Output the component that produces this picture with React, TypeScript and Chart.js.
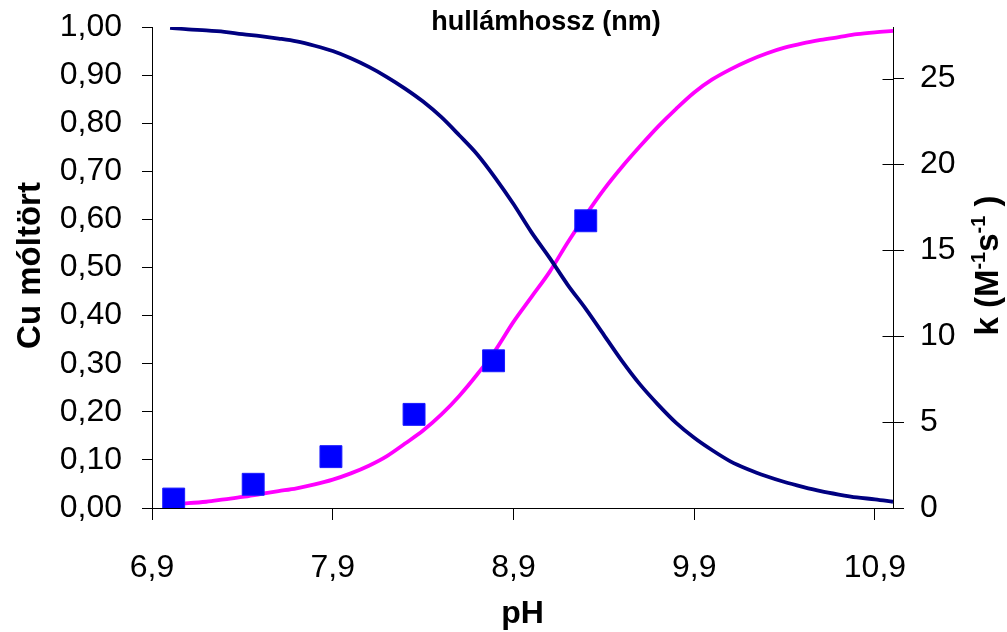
import React, { useEffect, useRef } from "react";
import { Chart, registerables } from "chart.js";

Chart.register(...registerables);

// ---- data ----
const pHGrid = [
  7.0, 7.1, 7.2, 7.3, 7.4, 7.5, 7.6, 7.7, 7.8, 7.9,
  8.0, 8.1, 8.2, 8.3, 8.4, 8.5, 8.6, 8.7, 8.8, 8.9,
  9.0, 9.1, 9.2, 9.3, 9.4, 9.5, 9.6, 9.7, 9.8, 9.9,
  10.0, 10.1, 10.2, 10.3, 10.4, 10.5, 10.6, 10.7, 10.8, 10.9, 11.0,
];
// Cu mole fraction (navy curve, left axis)
const cuFraction = [
  0.998, 0.995, 0.993, 0.99, 0.985, 0.981, 0.976, 0.97, 0.961, 0.95,
  0.935, 0.917, 0.896, 0.872, 0.845, 0.813, 0.775, 0.735, 0.686, 0.632,
  0.573, 0.52, 0.464, 0.414, 0.36, 0.306, 0.257, 0.215, 0.177, 0.146,
  0.12, 0.097, 0.08, 0.066, 0.054, 0.044, 0.035, 0.028, 0.022, 0.018, 0.013,
];
// complementary fraction (magenta curve, left axis)
const otherFraction = [
  0.008, 0.01, 0.013, 0.018, 0.023, 0.029, 0.035, 0.041, 0.049, 0.059,
  0.072, 0.088, 0.108, 0.134, 0.161, 0.194, 0.233, 0.278, 0.328, 0.387,
  0.439, 0.491, 0.552, 0.609, 0.662, 0.709, 0.752, 0.793, 0.83, 0.864,
  0.891, 0.912, 0.93, 0.945, 0.957, 0.966, 0.973, 0.979, 0.985, 0.989, 0.992,
];
// measured rate constants (blue squares, right axis)
const kPH = [7.02, 7.46, 7.89, 8.35, 8.79, 9.3];
const kValues = [0.52, 1.38, 2.99, 5.45, 8.57, 16.72];

const xTickValues = [6.9, 7.9, 8.9, 9.9, 10.9];
const kTickValues = [0, 5, 10, 15, 20, 25];

const chartTitle = "hullámhossz (nm)";
const xTitle = "pH";
const yTitle = "Cu móltört";

const FONT = "'Liberation Sans', Arial, Helvetica, sans-serif";

const annotations = {
  id: "annotations",
  afterDraw(chart: any) {
    const { ctx, chartArea, scales } = chart;
    ctx.save();
    // inward half of the right-axis ticks (they cross the axis)
    ctx.strokeStyle = "#000";
    ctx.lineWidth = 1;
    const rx = Math.round(chartArea.right) + 0.5;
    kTickValues.forEach((v) => {
      const y = Math.round(scales.y2.getPixelForValue(v)) + 0.5;
      ctx.beginPath();
      ctx.moveTo(rx - 11, y);
      ctx.lineTo(rx, y);
      ctx.stroke();
    });

    ctx.fillStyle = "#000";
    // top title
    ctx.font = `bold 27px ${FONT}`;
    ctx.textAlign = "center";
    ctx.textBaseline = "alphabetic";
    ctx.fillText(chartTitle, 546, 30);

    // x title
    ctx.font = `bold 32px ${FONT}`;
    ctx.fillText(xTitle, (chartArea.left + chartArea.right) / 2, 623);

    const midY = (chartArea.top + chartArea.bottom) / 2 - 2;

    // left title
    ctx.save();
    ctx.translate(40, midY);
    ctx.rotate(-Math.PI / 2);
    ctx.font = `bold 33px ${FONT}`;
    ctx.textAlign = "center";
    ctx.fillText(yTitle, 0, 0);
    ctx.restore();

    // right title with superscripts: k (M^-1 s^-1 )
    ctx.save();
    ctx.translate(998, midY);
    ctx.rotate(-Math.PI / 2);
    const big = `bold 33px ${FONT}`;
    const small = `bold 20px ${FONT}`;
    const parts: [string, boolean][] = [
      ["k (M", false],
      ["-1", true],
      ["s", false],
      ["-1", true],
      [" )", false],
    ];
    let total = 0;
    const widths = parts.map(([t, sup]) => {
      ctx.font = sup ? small : big;
      const w = ctx.measureText(t).width;
      total += w;
      return w;
    });
    let x = -total / 2;
    ctx.textAlign = "left";
    parts.forEach(([t, sup], i) => {
      ctx.font = sup ? small : big;
      ctx.fillText(t, x, sup ? -13 : 0);
      x += widths[i];
    });
    ctx.restore();

    ctx.restore();
  },
};

export default function App() {
  const ref = useRef<HTMLCanvasElement>(null);

  useEffect(() => {
    document.body.style.margin = "0";
    Chart.defaults.font.family = FONT;
    Chart.defaults.color = "#000";
    const canvas = ref.current!;
    const chart = new Chart(canvas, {
      type: "line",
      data: {
        datasets: [
          {
            type: "scatter",
            label: "k",
            data: kPH.map((x, i) => ({ x, y: kValues[i] })),
            yAxisID: "y2",
            showLine: false,
            pointStyle: "rect",
            pointRadius: 15.5,
            backgroundColor: "#0000FF",
            borderColor: "#1a1aff",
            borderWidth: 1,
          } as any,
          {
            label: "Cu",
            data: pHGrid.map((x, i) => ({ x, y: cuFraction[i] })),
            yAxisID: "y",
            borderColor: "#000080",
            borderWidth: 3.8,
            pointRadius: 0,
            cubicInterpolationMode: "monotone",
            fill: false,
          },
          {
            label: "other",
            data: pHGrid.map((x, i) => ({ x, y: otherFraction[i] })),
            yAxisID: "y",
            borderColor: "#FF00FF",
            borderWidth: 3.8,
            pointRadius: 0,
            cubicInterpolationMode: "monotone",
            fill: false,
          },
        ],
      },
      options: {
        animation: false,
        responsive: false,
        devicePixelRatio: 1,
        layout: { padding: { top: 27, left: 0, right: 0, bottom: 0 } },
        plugins: {
          legend: { display: false },
          tooltip: { enabled: false },
          title: { display: false },
        },
        scales: {
          x: {
            type: "linear",
            position: "bottom",
            min: 6.9,
            max: 11.0,
            afterBuildTicks: (scale: any) => {
              scale.ticks = xTickValues.map((v) => ({ value: v }));
            },
            afterFit: (scale: any) => {
              scale.height = 124;
              scale.paddingLeft = 0;
              scale.paddingRight = 0;
            },
            ticks: {
              font: { size: 32 },
              color: "#000",
              padding: 29,
              maxRotation: 0,
              autoSkip: false,
              callback: (v: any) => Number(v).toFixed(1).replace(".", ","),
            },
            grid: {
              drawOnChartArea: false,
              drawTicks: true,
              tickLength: 12,
              color: "#000",
            },
            border: { display: true, color: "#000", width: 1 },
          },
          y: {
            type: "linear",
            position: "left",
            min: 0,
            max: 1,
            afterFit: (scale: any) => {
              scale.width = 152;
              scale.paddingTop = 0;
              scale.paddingBottom = 0;
            },
            ticks: {
              stepSize: 0.1,
              font: { size: 32 },
              color: "#000",
              padding: 20,
              autoSkip: false,
              callback: (v: any) => Number(v).toFixed(2).replace(".", ","),
            },
            grid: {
              drawOnChartArea: false,
              drawTicks: true,
              tickLength: 10,
              color: "#000",
            },
            border: { display: true, color: "#000", width: 1 },
          },
          y2: {
            type: "linear",
            position: "right",
            min: 0,
            max: 28,
            afterBuildTicks: (scale: any) => {
              scale.ticks = kTickValues.map((v) => ({ value: v }));
            },
            afterFit: (scale: any) => {
              scale.width = 114;
              scale.paddingTop = 0;
              scale.paddingBottom = 0;
            },
            ticks: {
              font: { size: 32 },
              color: "#000",
              padding: 16,
              autoSkip: false,
              callback: (v: any) => String(v),
            },
            grid: {
              drawOnChartArea: false,
              drawTicks: true,
              tickLength: 11,
              color: "#000",
            },
            border: { display: true, color: "#000", width: 1 },
          },
        },
      },
      plugins: [annotations],
    });
    return () => chart.destroy();
  }, []);

  return (
    <div style={{ width: 1007, height: 632, background: "#fff" }}>
      <canvas ref={ref} width={1007} height={632} style={{ display: "block" }} />
    </div>
  );
}
